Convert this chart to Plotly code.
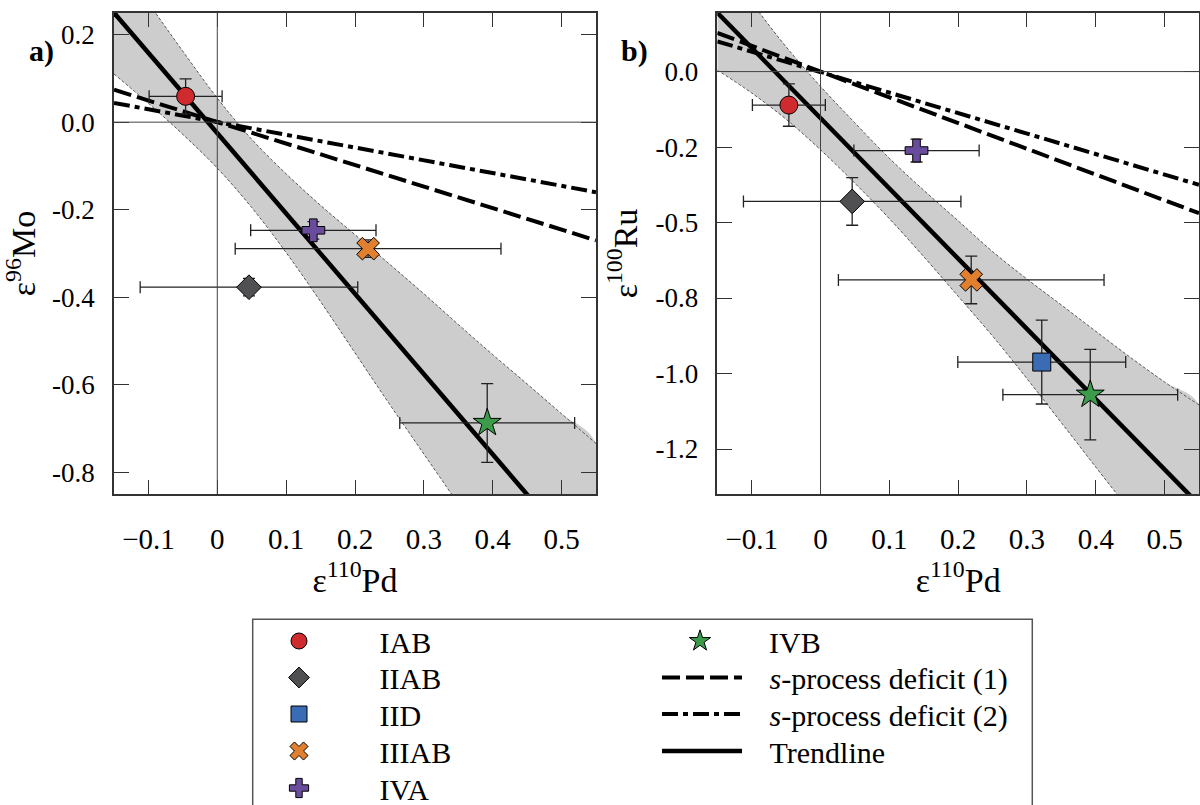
import plotly.graph_objects as go

# ---------------- data ----------------
groups = ["IAB", "IIAB", "IID", "IIIAB", "IVA", "IVB"]

# epsilon-110Pd (shared by both panels)
pd_val = [-0.046, 0.046, 0.3215, 0.219, 0.1395, 0.392]
pd_err = [0.053, 0.158, 0.122, 0.193, 0.091, 0.127]

# panel a: epsilon-96Mo (no Mo value for IID)
mo_val = [0.059, -0.377, None, -0.289, -0.247, -0.687]
mo_err = [0.040, 0.020, None, 0.020, 0.020, 0.090]

# panel b: epsilon-100Ru
ru_val = [-0.111, -0.430, -0.962, -0.690, -0.2615, -1.070]
ru_err = [0.070, 0.079, 0.139, 0.079, 0.038, 0.150]

# trendlines (end points across the x range)
line_x = [-0.15, 0.55]
trend_mo = [0.250, -1.034]
trend_ru = [0.195, -1.434]
# s-process deficit lines
spro1_mo = [0.074, -0.270]
spro2_mo = [0.044, -0.160]
spro1_ru = [0.128, -0.469]
spro2_ru = [0.100, -0.375]

# confidence envelope around the trendlines
band_x = [-0.15, -0.10, -0.05, 0.0, 0.05, 0.10, 0.15, 0.20, 0.25, 0.30, 0.35, 0.40, 0.45, 0.50, 0.55]
band_mo_hi = [0.390, 0.273, 0.162, 0.055, -0.039, -0.118, -0.190, -0.257, -0.324, -0.392, -0.462, -0.531, -0.598, -0.666, -0.734]
band_mo_lo = [0.110, 0.043, -0.028, -0.105, -0.195, -0.298, -0.410, -0.527, -0.644, -0.758, -0.872, -0.987, -1.102, -1.218, -1.334]
band_ru_hi = [0.385, 0.229, 0.082, -0.049, -0.170, -0.287, -0.393, -0.494, -0.596, -0.687, -0.773, -0.860, -0.946, -1.028, -1.104]
band_ru_lo = [0.005, -0.071, -0.158, -0.259, -0.370, -0.487, -0.613, -0.744, -0.876, -1.017, -1.163, -1.310, -1.456, -1.608, -1.764]

mo_ticks = [0.2, 0.0, -0.2, -0.4, -0.6, -0.8]
mo_ticktext = ["0.2", "0.0", "-0.2", "-0.4", "-0.6", "-0.8"]
ru_ticks = [0.0, -0.25, -0.5, -0.75, -1.0, -1.25]
ru_ticktext = ["0.0", "-0.2", "-0.5", "-0.8", "-1.0", "-1.2"]

# ---------------- styles ----------------
colors = {"IAB": "#CF2A2E", "IIAB": "#505052", "IID": "#3A6BB5",
          "IIIAB": "#E07F2E", "IVA": "#6A4C9C", "IVB": "#3C9A4B"}
symbols = {"IAB": "circle", "IIAB": "diamond", "IID": "square",
           "IIIAB": "x", "IVA": "cross", "IVB": "star"}
sizes = {"IAB": 18, "IIAB": 19, "IID": 18, "IIIAB": 20, "IVA": 19, "IVB": 21}

SERIF = "Liberation Serif"
W, H = 1200, 805
NB = "\u00a0"

# one legend per entry: (legend id, left x px, row centre y px, item width, text indent)
legend_slots = {
    "IAB": ("legend", 226, 641, 136, 1),
    "IIAB": ("legend2", 226, 677.5, 136, 1),
    "IID": ("legend3", 226, 714, 136, 1),
    "IIIAB": ("legend4", 226, 751, 136, 1),
    "IVA": ("legend5", 226, 788, 136, 1),
    "IVB": ("legend6", 631, 641, 128, 0),
    "spro1": ("legend7", 657, 677.5, 80, 3),
    "spro2": ("legend8", 657, 714, 80, 3),
    "trend": ("legend9", 657, 751, 80, 3),
}


def label(key, text):
    return NB * legend_slots[key][4] + text


fig = go.Figure()


def add_panel(xa, ya, yvals, yerrs, trend, spro1, spro2, hi, lo, show):
    # shaded envelope
    fig.add_trace(go.Scatter(
        x=band_x + band_x[::-1], y=hi + lo[::-1], fill="toself",
        fillcolor="#cdcdcd", line=dict(width=0, shape="spline"), mode="lines",
        hoverinfo="skip", showlegend=False, xaxis=xa, yaxis=ya))
    for edge in (hi, lo):
        fig.add_trace(go.Scatter(
            x=band_x, y=edge, mode="lines",
            line=dict(color="#333333", width=0.8, dash="3px,2px", shape="spline"),
            hoverinfo="skip", showlegend=False, xaxis=xa, yaxis=ya))
    # s-process lines and trendline
    fig.add_trace(go.Scatter(
        x=line_x, y=spro1, mode="lines", name=label("spro1", "<i>s</i>-process deficit (1)"),
        line=dict(color="black", width=4, dash="18px,6px"),
        showlegend=show, legend=legend_slots["spro1"][0], xaxis=xa, yaxis=ya))
    fig.add_trace(go.Scatter(
        x=line_x, y=spro2, mode="lines", name=label("spro2", "<i>s</i>-process deficit (2)"),
        line=dict(color="black", width=4, dash="16px,5px,5px,5px"),
        showlegend=show, legend=legend_slots["spro2"][0], xaxis=xa, yaxis=ya))
    fig.add_trace(go.Scatter(
        x=line_x, y=trend, mode="lines", name=label("trend", "Trendline"),
        line=dict(color="black", width=4.5),
        showlegend=show, legend=legend_slots["trend"][0], xaxis=xa, yaxis=ya))
    # data points with error bars
    for g, xv, xe, yv, ye in zip(groups, pd_val, pd_err, yvals, yerrs):
        if yv is None:
            continue
        fig.add_trace(go.Scatter(
            x=[xv], y=[yv], mode="markers", name=label(g, g),
            marker=dict(symbol=symbols[g], size=sizes[g], color=colors[g],
                        line=dict(color="black", width=1)),
            error_x=dict(type="data", array=[xe], color="#222222", thickness=1.3, width=6),
            error_y=dict(type="data", array=[ye], color="#222222", thickness=1.3, width=6),
            showlegend=show, legend=legend_slots[g][0], xaxis=xa, yaxis=ya))


add_panel("x", "y", mo_val, mo_err, trend_mo, spro1_mo, spro2_mo, band_mo_hi, band_mo_lo, False)
add_panel("x2", "y2", ru_val, ru_err, trend_ru, spro1_ru, spro2_ru, band_ru_hi, band_ru_lo, True)

# plot-area geometry in pixels
ax_a = (114, 596)
ax_b = (717.3, 1199)
ay = (12.7, 494.3)
ydom = [1 - ay[1] / H, 1 - ay[0] / H]

common_x = dict(range=[-0.15, 0.55], dtick=0.1, tick0=0, ticks="inside", ticklen=15,
                tickcolor="#333333", tickwidth=1.2, showline=True, linecolor="#333333",
                linewidth=1.5, mirror="allticks", showgrid=False, zeroline=False,
                tickfont=dict(family=SERIF, size=29, color="black"),
                ticklabelstandoff=18,
                title=dict(text="ε<sup>110</sup>Pd", font=dict(family=SERIF, size=34, color="black"),
                           standoff=14))
common_y = dict(ticks="inside", ticklen=15, tickcolor="#333333", tickwidth=1.2,
                showline=True, linecolor="#333333", linewidth=1.5, mirror="allticks",
                showgrid=False, zeroline=False, ticklabelstandoff=12,
                tickfont=dict(family=SERIF, size=27, color="black"))

legend_layout = {}
for key, (lid, x0, yc, iw, _) in legend_slots.items():
    legend_layout[lid] = dict(x=x0 / W, y=1 - yc / H, xanchor="left", yanchor="middle",
                              bgcolor="rgba(0,0,0,0)", borderwidth=0, itemwidth=iw,
                              font=dict(family=SERIF, size=30, color="black"))

fig.update_layout(
    width=W, height=H, autosize=False,
    margin=dict(l=0, r=0, t=0, b=0, autoexpand=False),
    paper_bgcolor="white", plot_bgcolor="white",
    font=dict(family=SERIF, color="black"),
    xaxis=dict(domain=[ax_a[0] / W, ax_a[1] / W], anchor="y", **common_x),
    xaxis2=dict(domain=[ax_b[0] / W, ax_b[1] / W], anchor="y2", **common_x),
    yaxis=dict(domain=ydom, anchor="x", range=[-0.85, 0.25], tickvals=mo_ticks,
               ticktext=mo_ticktext,
               title=dict(text="ε<sup>96</sup>Mo", font=dict(family=SERIF, size=34, color="black"),
                          standoff=8), **common_y),
    yaxis2=dict(domain=ydom, anchor="x2", range=[-1.4, 0.195], tickvals=ru_ticks,
                ticktext=ru_ticktext,
                title=dict(text="ε<sup>100</sup>Ru", font=dict(family=SERIF, size=34, color="black"),
                           standoff=8), **common_y),
    **legend_layout,
)

# zero reference lines on top of the envelope
for xr, yr in (("x", "y"), ("x2", "y2")):
    fig.add_shape(type="line", xref=xr + " domain", yref=yr, x0=0, x1=1, y0=0, y1=0,
                  line=dict(color="#444444", width=1), layer="above")
    fig.add_shape(type="line", xref=xr, yref=yr + " domain", x0=0, x1=0, y0=0, y1=1,
                  line=dict(color="#444444", width=1), layer="above")

# legend frame
fig.add_shape(type="rect", xref="paper", yref="paper",
              x0=252.7 / W, x1=1032.3 / W, y0=-0.02, y1=1 - 619.3 / H,
              line=dict(color="#555555", width=1.5), fillcolor="rgba(0,0,0,0)")

# panel labels
fig.add_annotation(text="<b>a)</b>", xref="paper", yref="paper", x=27 / W, y=1 - 32 / H,
                   showarrow=False, font=dict(family=SERIF, size=30, color="black"))
fig.add_annotation(text="<b>b)</b>", xref="paper", yref="paper", x=634 / W, y=1 - 32 / H,
                   showarrow=False, font=dict(family=SERIF, size=30, color="black"))

fig.write_html("out.html")
